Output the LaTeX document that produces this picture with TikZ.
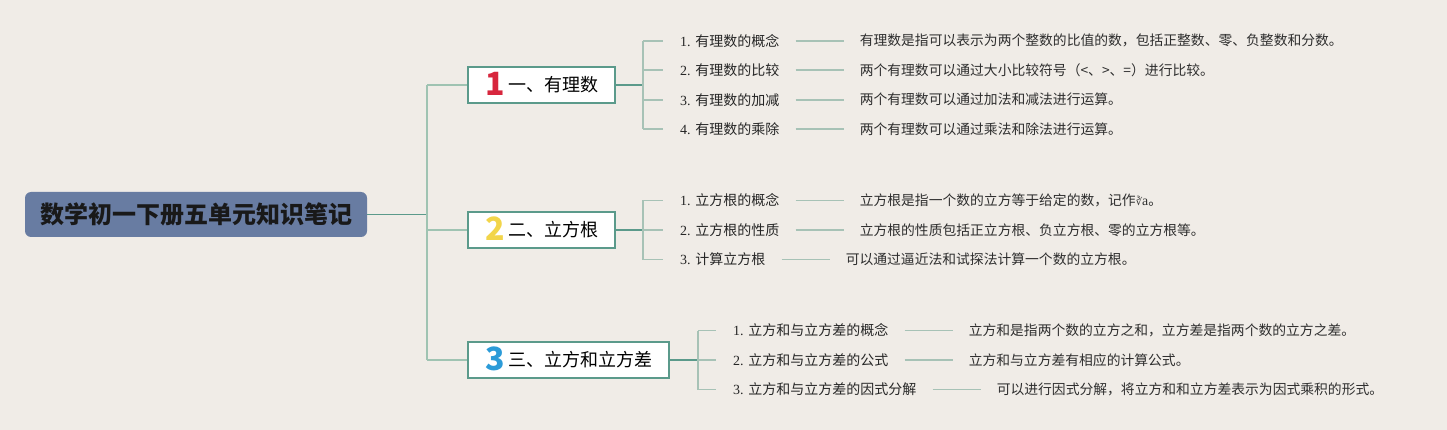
\documentclass[tikz,border=0pt]{standalone}
\usepackage{fontspec}
\setmainfont{Liberation Serif}
\newfontfamily\cjk{Noto Sans CJK SC}
\newfontfamily\djv{DejaVu Sans}
\usetikzlibrary{positioning}

\definecolor{bgcol}{HTML}{F0ECE7}
\definecolor{titlecol}{HTML}{687CA2}
\definecolor{boxcol}{HTML}{5B9A8B}
\definecolor{trunkcol}{HTML}{9FC3B2}
\definecolor{stubcol}{HTML}{A7C2B6}
\definecolor{onecol}{HTML}{D7263D}
\definecolor{twocol}{HTML}{F2D54A}
\definecolor{threecol}{HTML}{2B9BD8}

\newcommand\bignum[2]{\raisebox{-3.5pt}{\bfseries\fontsize{32}{32}\selectfont\color{#1}#2}\hspace{4pt}}

\begin{document}
\begin{tikzpicture}[x=1pt, y=-1pt,
  title/.style={fill=titlecol, rounded corners=6pt, minimum width=342pt, minimum height=45pt,
    inner sep=0pt, text=black!90, font=\cjk\bfseries\fontsize{24}{24}\selectfont},
  topic/.style={draw=boxcol, line width=2pt, fill=white, anchor=west, inner xsep=17pt,
    inner ysep=0.8pt, text height=24pt, text depth=10.4pt, font=\cjk\fontsize{18}{18}\selectfont},
  sub/.style={anchor=west, inner sep=0pt, text=black!85, font=\fontsize{14}{16}\selectfont},
  detail/.style={right=80pt of #1, inner sep=0pt, text=black!82, font=\cjk\fontsize{13.8}{16}\selectfont},
  main/.style={draw=boxcol, line width=1.8pt},
  trunk/.style={draw=trunkcol, line width=1.8pt},
  stub/.style={draw=stubcol, line width=1.6pt},
  link/.style={draw=stubcol, line width=1.6pt, shorten <=16pt, shorten >=16pt}]

\fill[bgcol] (0,0) rectangle (1447,430);
\useasboundingbox (0,0) rectangle (1447,430);

% root and topics
\node[title] (root) at (196,214.5) {数学初一下册五单元知识笔记};
\node[topic] (t1) at (467,85) {\bignum{onecol}{1}一、有理数};
\node[topic] (t2) at (467,230) {\bignum{twocol}{2}二、立方根};
\node[topic] (t3) at (467,360) {\bignum{threecol}{3}三、立方和立方差};

% topic 1
\node[sub] (s11) at (680,40.75) {1. \cjk 有理数的概念};
\node[sub] (s12) at (680,70.25) {2. \cjk 有理数的比较};
\node[sub] (s13) at (680,99.75) {3. \cjk 有理数的加减};
\node[sub] (s14) at (680,129.25) {4. \cjk 有理数的乘除};
\node[detail=s11] (d11) {有理数是指可以表示为两个整数的比值的数，包括正整数、零、负整数和分数。};
\node[detail=s12] (d12) {两个有理数可以通过大小比较符号（<、>、=）进行比较。};
\node[detail=s13] (d13) {两个有理数可以通过加法和减法进行运算。};
\node[detail=s14] (d14) {两个有理数可以通过乘法和除法进行运算。};

% topic 2
\node[sub] (s21) at (680,200.5) {1. \cjk 立方根的概念};
\node[sub] (s22) at (680,230) {2. \cjk 立方根的性质};
\node[sub] (s23) at (680,259.5) {3. \cjk 计算立方根};
\node[detail=s21] (d21) {立方根是指一个数的立方等于给定的数，记作{\djv\fontsize{10}{10}\selectfont ∛}{\rmfamily a}。};
\node[detail=s22] (d22) {立方根的性质包括正立方根、负立方根、零的立方根等。};
\node[detail=s23] (d23) {可以通过逼近法和试探法计算一个数的立方根。};

% topic 3
\node[sub] (s31) at (733,330.5) {1. \cjk 立方和与立方差的概念};
\node[sub] (s32) at (733,360) {2. \cjk 立方和与立方差的公式};
\node[sub] (s33) at (733,389.5) {3. \cjk 立方和与立方差的因式分解};
\node[detail=s31] (d31) {立方和是指两个数的立方之和，立方差是指两个数的立方之差。};
\node[detail=s32] (d32) {立方和与立方差有相应的计算公式。};
\node[detail=s33] (d33) {可以进行因式分解，将立方和和立方差表示为因式乘积的形式。};

% trunk
\coordinate (tk1) at (427,85);
\coordinate (tk3) at (427,360);
\draw[main] (root.east) -- (root.east -| tk1);
\draw[trunk] (tk1) -- (tk3);
\draw[trunk] (tk1) -- (t1.west);
\draw[trunk] (t2.west -| tk1) -- (t2.west);
\draw[trunk] (tk3) -- (t3.west);

% buses
\coordinate (b1) at (643,85);
\coordinate (b2) at (643,230);
\coordinate (b3) at (698,360);
\draw[main] (t1.east) -- (b1);
\draw[main] (t2.east) -- (b2);
\draw[main] (t3.east) -- (b3);
\draw[stub] (s11.west -| b1) -- (s14.west -| b1);
\draw[stub] (s21.west -| b2) -- (s23.west -| b2);
\draw[stub] (s31.west -| b3) -- (s33.west -| b3);
\foreach \s/\b in {s11/b1,s12/b1,s13/b1,s14/b1,s21/b2,s22/b2,s23/b2,s31/b3,s32/b3,s33/b3}
  \draw[stub] (\s.west -| \b) -- ([xshift=-17pt]\s.west);

% links to details
\foreach \n in {11,12,13,14,21,22,23,31,32,33}
  \draw[link] (s\n.east) -- (d\n.west);

\end{tikzpicture}
\end{document}
